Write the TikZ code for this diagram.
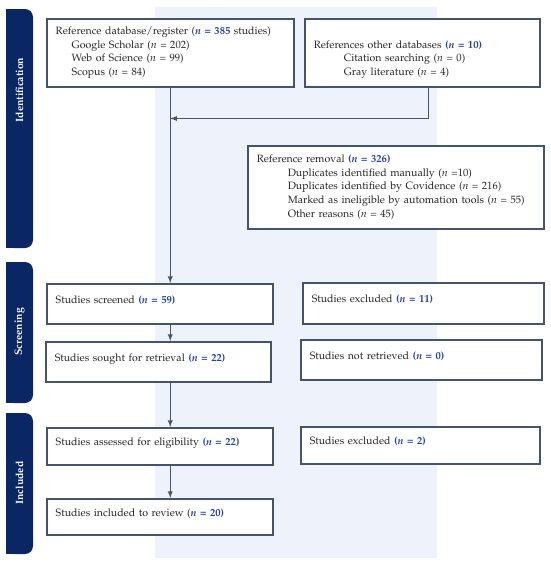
\documentclass[tikz,border=0pt]{standalone}
\usepackage[T1]{fontenc}
\usepackage{mathpazo}
\usepackage{tikz}
\usetikzlibrary{positioning}

\definecolor{navy}{RGB}{10,38,100}
\definecolor{boxline}{RGB}{68,84,106}
\definecolor{nblue}{RGB}{38,68,150}
\definecolor{panel}{RGB}{238,243,251}

\newcommand{\nb}[1]{\textcolor{nblue}{\textbf{#1}}}
\newcommand{\nn}{\textit{n}}

\begin{document}
\begin{tikzpicture}[x=1pt,y=-1pt,
    box/.style={draw=boxline, line width=1.5pt, fill=white, anchor=north west,
        align=left, inner xsep=9pt, inner ysep=0pt, text=black!85,
        font=\fontsize{10.6pt}{13.6pt}\selectfont},
    oneline/.style={box, text depth=8.5pt},
    phase/.style={rotate=90, text=white, font=\fontsize{10.5pt}{12pt}\selectfont\bfseries},
    flow/.style={draw=boxline, line width=1.3pt, -latex}
]
\useasboundingbox (0,0) rectangle (550,566);

% background panel
\fill[panel] (155,7) rectangle (437,558);

% phase bars
\foreach \top/\bot in {9/248, 262/403, 413/554} {
    \fill[navy, rounded corners=8pt] (6,\top) rectangle (33,\bot);
    \fill[navy] (6,\top) rectangle (20,\bot);
}
\node[phase] (ident) at (19.5,90) {Identification};
\node[phase] (screen) at (19.5,332) {Screening};
\node[phase] (incl) at (19.5,483) {Included};

% identification
\node[box, text width=229pt, minimum height=68pt] (db) at (46,18)
    {Reference database/register (\nb{\nn{} = 385} studies)\\
     \hspace*{16pt}Google Scholar (\nn{} = 202)\\
     \hspace*{16pt}Web of Science (\nn{} = 99)\\
     \hspace*{16pt}Scopus (\nn{} = 84)};
\node[box, text width=217pt, minimum height=68pt, text depth=16.6pt] (other) at (304,18)
    {References other databases \nb{(\nn{} = 10)}\\
     \hspace*{30pt}Citation searching (\nn{} = 0)\\
     \hspace*{30pt}Gray literature (\nn{} = 4)};
\node[box, text width=278pt, minimum height=83pt] (removal) at (247,145)
    {Reference removal \nb{(\nn{} = 326)}\\
     \hspace*{31pt}Duplicates identified manually (\nn{} =10)\\
     \hspace*{31pt}Duplicates identified by Covidence (\nn{} = 216)\\
     \hspace*{31pt}Marked as ineligible by automation tools (\nn{} = 55)\\
     \hspace*{31pt}Other reasons (\nn{} = 45)};

% screening
\node[oneline, text width=208pt, minimum height=40pt] (screened) at (46,283)
    {Studies screened \nb{(\nn{} = 59)}};
\node[oneline, text width=223pt, minimum height=41pt] (excl1) at (302,282)
    {Studies excluded \nb{(\nn{} = 11)}};
\node[oneline, text width=207pt, minimum height=40pt] (sought) at (45,341)
    {Studies sought for retrieval \nb{(\nn{} = 22)}};
\node[oneline, text width=223pt, minimum height=40pt] (notret) at (300,339)
    {Studies not retrieved \nb{(\nn{} = 0)}};

% included
\node[oneline, text width=208pt, minimum height=37pt] (assessed) at (46,427)
    {Studies assessed for eligibility \nb{(\nn{} = 22)}};
\node[oneline, text width=221pt, minimum height=37pt] (excl2) at (300,426)
    {Studies excluded \nb{(\nn{} = 2)}};
\node[oneline, text width=208pt, minimum height=36pt] (review) at (46,498)
    {Studies included to review (\nb{\nn{} = 20)}};

% connectors
\coordinate (merge) at ([yshift=-31pt]db.south);
\draw[flow] (db.south) -- (db.south |- screened.north);
\draw[flow] ([xshift=6.5pt]other.south) |- (merge);
\draw[flow] (db.south |- screened.south) -- (db.south |- sought.north);
\draw[flow] (db.south |- sought.south) -- (db.south |- assessed.north);
\draw[flow] (db.south |- assessed.south) -- (db.south |- review.north);
\end{tikzpicture}
\end{document}
